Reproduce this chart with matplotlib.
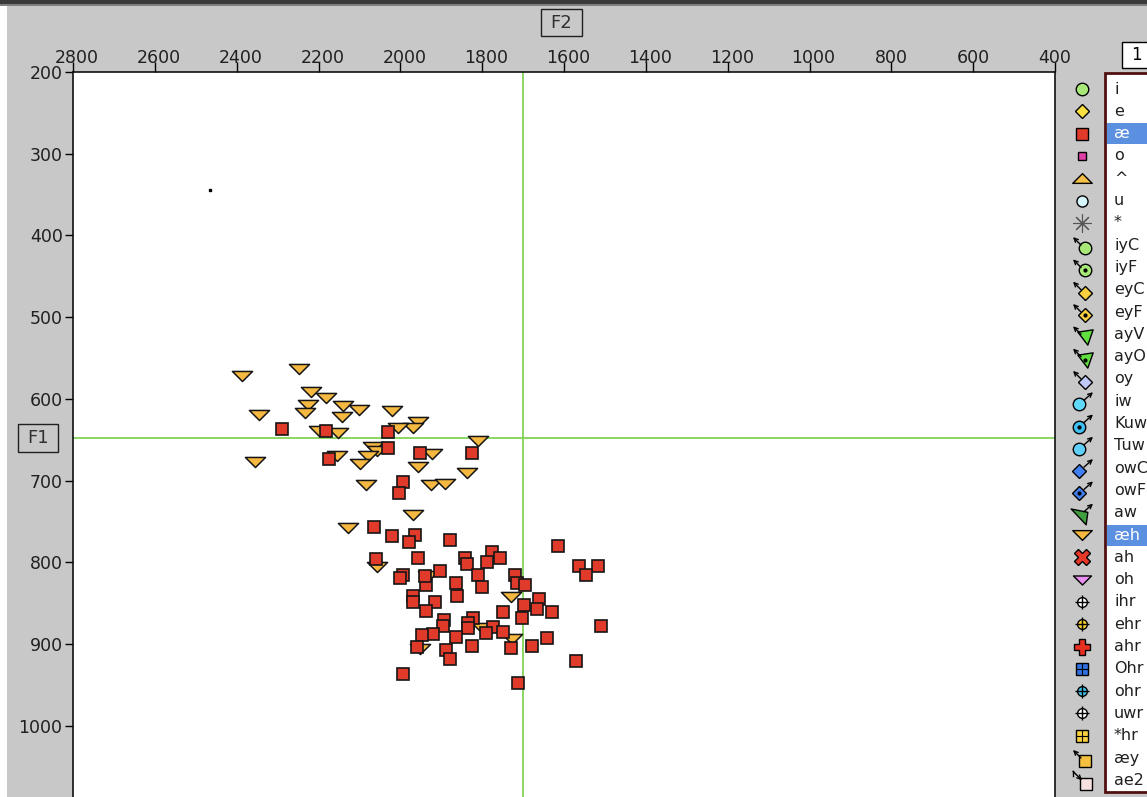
import matplotlib.pyplot as plt
import matplotlib.transforms as mtransforms
from matplotlib.patches import Rectangle
from matplotlib.path import Path

W, H = 1147, 797

# vowel "æ" tokens (red squares): F2, F1 in Hz
ae_f2 = [2288, 2182, 2029, 2029, 1952, 1826, 2174, 1993, 2003, 2064,
         2020, 1964, 1979, 1879, 1777, 1615, 2060, 1956, 1842, 1838,
         1789, 1756, 1563, 1516, 1547, 1993, 2001, 1903, 1937, 1940,
         1811, 1720, 1716, 1695, 1865, 1801, 1861, 1970, 1970, 1915,
         1937, 1661, 1697, 1667, 1748, 1630, 1702, 1510, 1893, 1895,
         1822, 1834, 1834, 1774, 1748, 1791, 1921, 1948, 1865, 1642,
         1959, 1824, 1730, 1679, 1888, 1879, 1571, 1993, 1712]
ae_f1 = [637, 639, 641, 660, 666, 666, 673, 702, 715, 757,
         768, 766, 775, 773, 787, 780, 796, 794, 795, 802,
         800, 794, 804, 804, 816, 816, 819, 811, 828, 817,
         816, 815, 825, 828, 825, 830, 841, 841, 848, 848,
         859, 845, 852, 857, 861, 861, 868, 878, 870, 878,
         868, 874, 880, 879, 885, 886, 887, 889, 891, 893,
         903, 902, 905, 902, 907, 918, 920, 936, 948]

# vowel "æh" tokens (orange down triangles)
aeh_f2 = [2388, 2248, 2219, 2182, 2225, 2233, 2345, 2139, 2100, 2142,
          2020, 1956, 1968, 2005, 2200, 2152, 1811, 2068, 2058, 2078,
          2156, 2099, 1922, 2355, 1956, 1838, 2084, 1926, 1891, 1970,
          2129, 2056, 1932, 1730, 1801, 1728, 1952]
aeh_f1 = [572, 563, 592, 599, 607, 617, 620, 609, 613, 622,
          615, 628, 636, 636, 639, 642, 651, 659, 664, 670,
          670, 679, 667, 677, 683, 690, 705, 705, 704, 742,
          758, 806, 817, 842, 880, 894, 906]

stray_f2, stray_f1 = [2465], [344]
cross_f2, cross_f1 = 1700, 648

x_ticks = list(range(2800, 399, -200))
y_ticks = list(range(200, 1001, 100))

labels = ['i', 'e', 'æ', 'o', '^', 'u', '*', 'iyC', 'iyF', 'eyC', 'eyF',
          'ayV', 'ayO', 'oy', 'iw', 'Kuw', 'Tuw', 'owC', 'owF', 'aw', 'æh',
          'ah', 'oh', 'ihr', 'ehr', 'ahr', 'Ohr', 'ohr', 'uwr', '*hr', 'æy', 'ae2']
selected = ['æ', 'æh']

tri_down = Path([(-1, 0.5), (1, 0.5), (0, -0.5), (-1, 0.5)], closed=True)
tri_up = Path([(-1, -0.5), (1, -0.5), (0, 0.5), (-1, -0.5)], closed=True)
tri_v = Path([(-1, 0.7), (1, 1), (0.3, -1), (-1, 0.7)], closed=True)
tri_aw = Path([(-1, 0.9), (1, 0.5), (0.8, -1), (-1, 0.9)], closed=True)

# marker, face colour, size, arrow, overlay
specs = [
    ('o', '#a8e878', 9, None, None),
    ('D', '#f8e040', 7, None, None),
    ('s', '#e03a2a', 8, None, None),
    ('s', '#e040a8', 6, None, None),
    (tri_up, '#f5c048', 14, None, None),
    ('o', '#d8f8ff', 8, None, None),
    ('ast', '#555555', 13, None, None),
    ('o', '#a8e878', 9, 'ul', None),
    ('o', '#a8e878', 9, 'ul', 'dot'),
    ('D', '#f8d040', 7, 'ul', None),
    ('D', '#f8d040', 7, 'ul', 'dot'),
    (tri_v, '#60e040', 11, 'ul', None),
    (tri_v, '#60e040', 11, 'ul', 'dot'),
    ('D', '#c0c8f8', 7, 'ul', None),
    ('o', '#60d8f8', 9, 'ur', None),
    ('o', '#40c0f0', 9, 'ur', 'dot'),
    ('o', '#60d0f8', 9, 'ur', None),
    ('D', '#4080f0', 7, 'ur', None),
    ('D', '#4080f0', 7, 'ur', 'dot'),
    (tri_aw, '#40a040', 12, 'ur', None),
    (tri_down, '#f5b840', 14, None, None),
    ('X', '#e83828', 11, None, None),
    (tri_down, '#e890f0', 13, None, None),
    ('o', 'white', 7, None, 'plus'),
    ('o', '#f8d030', 7, None, 'plus'),
    ('P', '#e83020', 11, None, None),
    ('s', '#3070e0', 8, None, 'grid'),
    ('o', '#40c0e8', 7, None, 'plus'),
    ('o', 'white', 7, None, 'plus'),
    ('s', '#f8d040', 8, None, 'grid'),
    ('s', '#f5c040', 8, 'ul', None),
    ('s', '#f8e0e0', 8, 'dr', None),
]

fig = plt.figure(figsize=(W / 100, H / 100), dpi=100, facecolor='#c8c8c8')

# window chrome, drawn in pixel coordinates
bg = fig.add_axes([0, 0, 1, 1])
bg.set_xlim(0, W)
bg.set_ylim(H, 0)
bg.axis('off')
bg.add_patch(Rectangle((0, 0), W, 4, fc='#3a3a3a', ec='none'))
bg.add_patch(Rectangle((0, 4), W, 1.5, fc='#808080', ec='none'))
bg.add_patch(Rectangle((0, 5.5), 7, H, fc='white', ec='none'))

bg.add_patch(Rectangle((541, 9), 41, 27, fc='#c8c8c8', ec='#202020', lw=1))
bg.text(561.5, 23, 'F2', ha='center', va='center', fontsize=13, color='#303030')
bg.add_patch(Rectangle((18, 424), 40, 28, fc='#c8c8c8', ec='#202020', lw=1))
bg.text(38, 438, 'F1', ha='center', va='center', fontsize=13, color='#303030')

bg.add_patch(Rectangle((1122, 42), 30, 26, fc='white', ec='black', lw=1))
bg.text(1136, 55, '1', ha='center', va='center', fontsize=12, color='black')

bg.add_patch(Rectangle((1105, 73), 60, 719, fc='white', ec='#501010', lw=2))

row_y = [89 + 22.3 * k for k in range(len(labels))]
for lab, y, (mk, col, ms, arrow, extra) in zip(labels, row_y, specs):
    if lab in selected:
        bg.add_patch(Rectangle((1107, y - 10.5), 45, 21, fc='#5b8fe0', ec='none'))
    bg.text(1114, y, lab, ha='left', va='center', fontsize=11.5,
            color='white' if lab in selected else '#202020')

    mx, my = 1082, y
    ap = dict(arrowstyle='->', lw=1, color='black', shrinkA=0, shrinkB=0,
              mutation_scale=7)
    if arrow == 'ul':
        mx, my = 1085, y + 3
        bg.annotate('', xy=(1073, y - 8), xytext=(1081, y), arrowprops=ap)
    elif arrow == 'ur':
        mx, my = 1079, y + 3
        bg.annotate('', xy=(1093, y - 9), xytext=(1084, y - 1), arrowprops=ap)
    elif arrow == 'dr':
        mx, my = 1086, y + 4
        bg.annotate('', xy=(1082, y), xytext=(1073, y - 9), arrowprops=ap)
        bg.plot([1073, 1073], [y - 9, y - 4], color='black', lw=1)

    if mk == 'ast':
        bg.plot(mx, my, marker=(8, 2, 0), ms=ms, mew=0.8, color=col)
    else:
        bg.plot(mx, my, marker=mk, ms=ms, mfc=col, mec='black', mew=1,
                linestyle='none')
    if extra == 'dot':
        bg.plot(mx, my, marker='o', ms=2, color='black')
    elif extra == 'plus':
        bg.plot(mx, my, marker='+', ms=10, mew=1, color='black')
    elif extra == 'grid':
        bg.plot(mx, my, marker='+', ms=8, mew=0.8, color='black')

# the F1/F2 plot itself
ax = fig.add_axes([73 / W, 0, (1055 - 73) / W, (797 - 72) / H])
ax.set_facecolor('white')
ax.set_xlim(2800, 400)
ax.set_ylim(1087, 200)

ax.axhline(cross_f1, color='#78d048', lw=1.2, zorder=1)
ax.axvline(cross_f2, color='#78d048', lw=1.2, zorder=1)

ax.plot(aeh_f2, aeh_f1, linestyle='none', marker=tri_down, ms=14.5,
        mfc='#f5b840', mec='#151515', mew=1.1, zorder=2)
ax.plot(ae_f2, ae_f1, linestyle='none', marker='s', ms=8,
        mfc='#e03a2a', mec='#151515', mew=1.2, zorder=3)
ax.plot(stray_f2, stray_f1, linestyle='none', marker='s', ms=2,
        color='black', zorder=3)

ax.xaxis.tick_top()
ax.set_xticks(x_ticks)
ax.set_yticks(y_ticks)
ax.tick_params(axis='x', top=True, bottom=False, direction='out', length=7,
               width=1, pad=-3.4, labelsize=12.5, labelcolor='#202020')
ax.tick_params(axis='y', left=True, direction='out', length=5.5, width=1,
               pad=2, labelsize=12.5, labelcolor='#202020')
for side in ['top', 'left', 'right']:
    ax.spines[side].set_linewidth(1.2)
    ax.spines[side].set_color('#101010')
ax.spines['bottom'].set_visible(False)

# four-digit labels sit a little right of their tick in the original
shift = mtransforms.ScaledTranslation(4 / 100, 0, fig.dpi_scale_trans)
for t, lab in zip(x_ticks, ax.get_xticklabels()):
    if t >= 1000:
        lab.set_transform(lab.get_transform() + shift)

plt.savefig('out.png', dpi=100, facecolor=fig.get_facecolor())
